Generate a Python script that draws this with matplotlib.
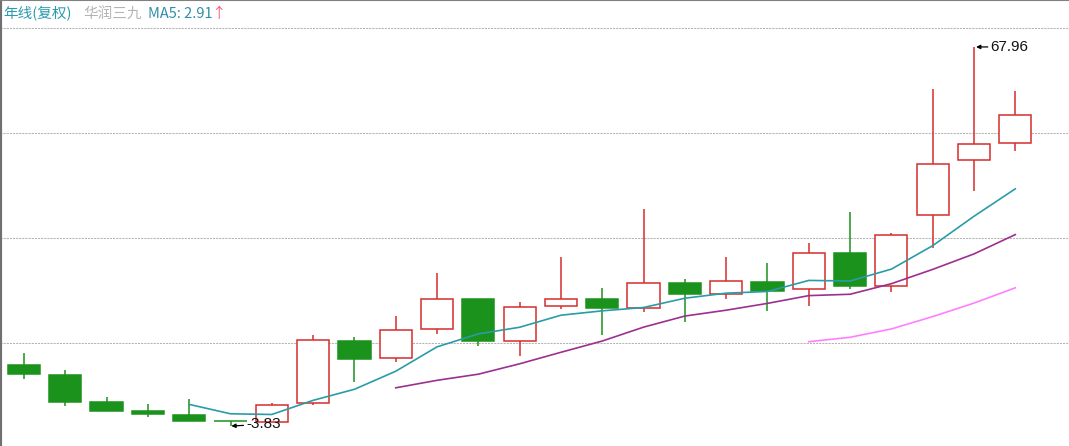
import matplotlib
matplotlib.use('Agg')
import matplotlib.pyplot as plt

# Yearly candles (forward-adjusted prices)
opens = [7.72, 5.83, 0.66, -0.99, -1.75, -2.83, -3.02, 0.47, 12.27, 9.05,
         14.48, 20.28, 12.32, 18.95, 20.28, 18.52, 23.31, 21.11, 23.38, 22.12,
         28.99, 22.74, 36.07, 46.55, 49.82]
highs = [9.94, 6.77, 1.60, 0.39, 1.34, -2.83, 0.47, 13.40, 12.97, 17.00,
         25.09, 20.28, 19.60, 28.12, 22.36, 37.27, 24.01, 28.12, 26.98, 30.88,
         36.64, 32.78, 60.05, 67.96, 59.62]
lows = [5.01, -0.04, -0.93, -2.18, -2.83, -3.83, -3.02, 0.15, 4.44, 8.23,
        13.54, 11.32, 9.43, 18.27, 13.46, 17.70, 15.81, 20.16, 18.01, 18.95,
        22.17, 21.55, 29.82, 40.73, 48.31]
closes = [5.96, 0.71, -0.93, -1.62, -2.83, -2.94, 0.09, 12.46, 8.80, 14.29,
          20.16, 12.32, 18.76, 20.22, 18.46, 23.31, 21.11, 23.57, 21.74, 28.99,
          22.74, 32.34, 45.79, 49.58, 55.01]

# moving averages as shown on the chart (start index, values)
ma5_start = 4
ma5 = [0.26, -1.52, -1.65, 1.03, 3.12, 6.54, 11.16, 13.61, 14.87, 17.15,
       17.98, 18.61, 20.37, 21.33, 21.64, 23.74, 23.63, 25.88, 30.32, 35.89, 41.09]
ma10_start = 9
ma10 = [3.40, 4.82, 5.98, 7.95, 10.13, 12.26, 14.89, 16.99, 18.10, 19.39,
        20.86, 21.12, 23.12, 25.83, 28.76, 32.42]
ma20_start = 19
ma20 = [12.13, 12.97, 14.55, 16.89, 19.45, 22.34]

grid_levels = [11.94, 31.83, 51.72, 71.49]
high_label = '67.96'
low_label = '-3.83'

RED = '#d42c2c'
GREEN = '#1b921b'

fig = plt.figure(figsize=(10.69, 4.46), dpi=100)
ax = fig.add_axes([0, 0, 1, 1])
ax.set_xlim(-0.581, 25.30)
ax.set_ylim(-7.62, 76.85)

for lvl in grid_levels:
    ax.axhline(lvl, color='#b4b4b4', lw=0.75, linestyle=(0, (2, 1)), zorder=1)

n = len(opens)
xs = list(range(n))
for i in xs:
    up = closes[i] >= opens[i]
    col = RED if up else GREEN
    ax.vlines(i, lows[i], highs[i], color=col, lw=1.1, zorder=2)
    bottom = min(opens[i], closes[i])
    height = max(abs(closes[i] - opens[i]), 0.05)
    ax.bar(i, height, bottom=bottom, width=0.78,
           facecolor='white' if up else GREEN, edgecolor=col, lw=1.1, zorder=3)

ax.plot(range(ma5_start, ma5_start + len(ma5)), ma5, color='#2a9ca8', lw=1.2, zorder=4)
ax.plot(range(ma10_start, ma10_start + len(ma10)), ma10, color='#9c3091', lw=1.2, zorder=4)
ax.plot(range(ma20_start, ma20_start + len(ma20)), ma20, color='#ff80ff', lw=1.2, zorder=4)

# high / low markers
ihi = highs.index(max(highs))
ilo = lows.index(min(lows))
arrow = dict(arrowstyle='-|>', color='black', lw=0.9, shrinkA=0, shrinkB=0, mutation_scale=6)
ax.annotate(high_label, xy=(ihi + 0.05, highs[ihi]), xytext=(ihi + 0.40, highs[ihi]),
            va='center', ha='left', fontsize=11, family='Liberation Sans',
            color='#111111', arrowprops=arrow, zorder=5)
ax.annotate(low_label, xy=(ilo + 0.02, lows[ilo]), xytext=(ilo + 0.38, lows[ilo] + 0.3),
            va='center', ha='left', fontsize=11, family='Liberation Sans',
            color='#111111', arrowprops=arrow, zorder=5)

# title line
cjk = ['Noto Sans CJK SC', 'DejaVu Sans']
ty = 1 - 14 / 446
fig.text(3 / 1069, ty, '年线(复权)', color='#2a9aad', fontsize=10.5, family=cjk, va='center')
fig.text(83 / 1069, ty, '华润三九', color='#b4b4b4', fontsize=10.5, family=cjk, va='center')
fig.text(148 / 1069, ty, 'MA5: 2.91', color='#2e8fa5', fontsize=10.5, family=cjk, va='center')
fig.text(211 / 1069, ty, '↑', color='#ff5a7a', fontsize=10.5, family=cjk, va='center')

ax.set_xticks([])
ax.set_yticks([])
for s in ['right', 'bottom']:
    ax.spines[s].set_visible(False)
ax.spines['left'].set_color('#707070')
ax.spines['left'].set_linewidth(3)
ax.spines['top'].set_color('#808080')
ax.spines['top'].set_linewidth(1.5)

fig.savefig('out.png', dpi=100)
